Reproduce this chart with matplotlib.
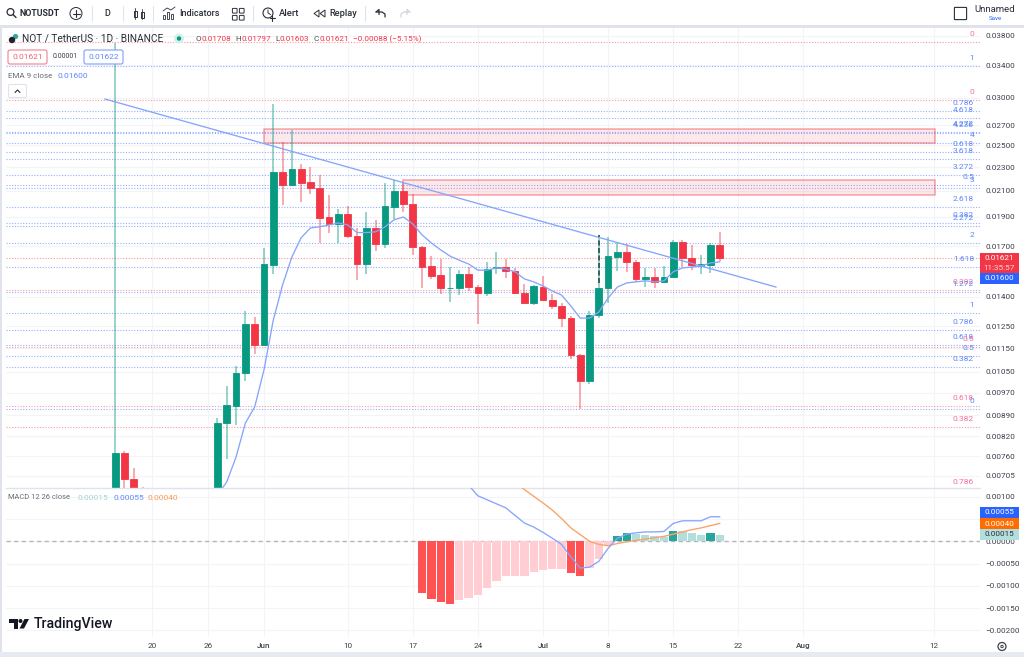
import matplotlib
matplotlib.use('Agg')
import matplotlib.pyplot as plt
from matplotlib.patches import Rectangle, FancyBboxPatch, Circle, Polygon
from matplotlib.ticker import NullLocator

plt.rcParams['font.family'] = ['Roboto', 'DejaVu Sans']

W, H = 1024, 657

# --- Candles (day number, 0 = 1 Jun) ---
days = [-16, -15, -14, -13, -5, -4, -3, -2, -1, 0, 1, 2, 3, 4, 5, 6, 7, 8, 9, 10, 11, 12, 13, 14, 15, 16,
        17, 18, 19, 20, 21, 22, 23, 24, 25, 26, 27, 28, 29, 30, 31, 32, 33, 34, 35, 36, 37, 38, 39, 40,
        41, 42, 43, 44, 45, 46, 47, 48, 49]
opens = [.00600, .00770, .00697, .00640, .00600, .00864, .00922, .01047, .01262, .01165, .01583, .02260,
         .02150, .02280, .02170, .02120, .01900, .01852, .01920, .01769, .01587, .01822, .01715, .01975,
         .02100, .02000, .01696, .01575, .01520, .01447, .01449, .01527, .01452, .01419, .01560, .01570,
         .01547, .01420, .01367, .01455, .01381, .01351, .01290, .01120, .01015, .01307, .01445, .01630,
         .01663, .01600, .01500, .01510, .01480, .01510, .01727, .01624, .01575, .01580, .01708]
highs = [.03699, .00776, .00727, .00675, .00880, .00995, .01075, .01327, .01295, .01685, .02930, .02530,
         .02650, .02330, .02300, .02235, .02065, .01960, .01980, .01822, .01935, .01880, .02165, .02190,
         .02170, .02075, .01700, .01636, .01615, .01569, .01550, .01569, .01465, .01600, .01660, .01617,
         .01560, .01469, .01465, .01516, .01415, .01365, .01300, .01123, .01323, .01770, .01763, .01723,
         .01713, .01614, .01560, .01560, .01575, .01740, .01740, .01704, .01642, .01720, .01797]
lows = [.00590, .00670, .00600, .00600, .00590, .00752, .00856, .01012, .01125, .01160, .01527, .01990,
        .02145, .02015, .02075, .01720, .01785, .01720, .01750, .01491, .01530, .01670, .01690, .01885,
        .01940, .01642, .01445, .01498, .01415, .01373, .01408, .01430, .01260, .01403, .01530, .01503,
        .01415, .01362, .01356, .01375, .01334, .01249, .01102, .00912, .01003, .01290, .01367, .01545,
        .01540, .01484, .01455, .01450, .01473, .01505, .01568, .01552, .01527, .01535, .01603]
closes = [.00770, .00697, .00640, .00600, .00863, .00925, .01047, .01262, .01165, .01587, .02260, .02150,
          .02280, .02165, .02120, .01895, .01852, .01920, .01767, .01587, .01822, .01715, .01980, .02100,
          .02000, .01693, .01569, .01516, .01445, .01450, .01527, .01452, .01419, .01555, .01570, .01545,
          .01422, .01367, .01457, .01381, .01350, .01290, .01119, .01015, .01307, .01445, .01636, .01663,
          .01600, .01497, .01508, .01480, .01512, .01727, .01622, .01579, .01585, .01709, .01621]

# --- EMA 9 ---
ema_days = list(range(-5, 50))
ema = [.00655, .00689, .00758, .00863, .00918, .01058, .01280, .01465, .01630, .01755, .01822, .01830, .01843,
       .01857, .01843, .01790, .01790, .01795, .01829, .01880, .01900, .01850, .01774, .01720, .01675, .01636,
       .01610, .01587, .01550, .01550, .01563, .01557, .01540, .01499, .01482, .01459, .01431, .01409, .01351,
       .01290, .01290, .01320, .01393, .01453, .01476, .01482, .01488, .01482, .01488, .01540, .01563, .01569,
       .01575, .01593, .01600]

# --- Drawings ---
trend_days = [-17.1, 55.05]
trend_prices = [.02985, .01453]
zone_days = [[0, 72.2], [15, 72.2]]
zone_prices = [[.02520, .02660], [.02067, .02190]]
dash_day = 36
dash_prices = [.01476, .01770]

fib_prices = [.03714, .03388, .02971, .02851, .02772, .02630, .02620, .02519, .02441, .02370, .02232, .02148,
              .02124, .01972, .01855, .01836, .01718, .01569, .01437, .01428, .01317, .01232, .01165, .01153,
              .01117, .01071, .00922, .00912, .00849, .00668]
fib_labels = ['0', '1', '0', '0.786', '4.618', '4.272', '4.236', '4', '0.618', '3.618', '3.272', '0.5', '3',
              '2.618', '0.382', '2.272', '2', '1.618', '0.382', '1.272', '1', '0.786', '0.618', '0.5', '0.5',
              '0.382', '0.618', '0', '0.382', '0.786']
fib_kinds = ['r', 'b', 'r', 'b', 'b', 'b', 'b', 'b', 'b', 'b', 'b', 'b', 'b', 'b', 'b', 'b', 'b', 'b', 'r', 'b',
             'b', 'b', 'b', 'r', 'b', 'b', 'r', 'b', 'r', 'r']
last_close = .01621

price_ticks = [.038, .034, .030, .027, .025, .023, .021, .019, .017, .014, .0125, .0115, .0105, .0097, .0089,
               .0082, .0076, .00705]

# --- MACD ---
hist_days = list(range(17, 50))
hist = [-.00117, -.00129, -.00137, -.00141, -.00132, -.00127, -.00121, -.00105, -.00090, -.00078, -.00077,
        -.00077, -.00069, -.00065, -.00062, -.00063, -.00070, -.00078, -.00061, -.00039, -.00010, .00012,
        .00019, .00016, .00015, .00012, .00010, .00022, .00022, .00018, .00015, .00019, .00015]
hist_strong = [1, 1, 1, 1, 0, 0, 0, 0, 0, 0, 0, 0, 0, 0, 0, 0, 1, 1, 0, 0, 0, 1, 1, 0, 0, 0, 0, 1, 0, 0, 0, 1, 0]
macd_days = list(range(22, 50))
macd = [.00126, .00102, .00093, .00084, .00075, .00058, .00041, .00032, .00020, .00007, -.00007, -.00035,
        -.00060, -.00058, -.00045, -.00016, .00007, .00016, .00019, .00021, .00021, .00022, .00040, .00046,
        .00046, .00046, .00055, .00055]
signal_days = list(range(27, 50))
signal = [.00132, .00116, .00101, .00086, .00070, .00051, .00030, .00015, .00000, -.00007, -.00010, -.00005,
          -.00001, .00002, .00005, .00008, .00011, .00016, .00021, .00026, .00030, .00035, .00040]
macd_ticks = [.001, .0005, 0, -.0005, -.001, -.0015, -.002]
macd_ticklabels = ['0.00100', '0.00050', '0.00000', '\u22120.00050', '\u22120.00100', '\u22120.00150', '\u22120.00200']

# --- Time axis ---
time_ticks = [-12, -6, 0, 9, 16, 23, 30, 37, 44, 51, 58, 72]
time_labels = ['20', '26', 'Jun', '10', '17', '24', 'Jul', '8', '15', '22', 'Aug', '12']

GREEN = '#089981'
RED = '#f23645'
BLUE = '#2962ff'
GRID = '#f3f4f7'
AXTXT = '#3c404b'
LINE_BLUE = '#86a5fb'


def make_axes(left, top, right, bottom):
    return fig.add_axes([left / W, 1 - bottom / H, (right - left) / W, (bottom - top) / H])


fig = plt.figure(figsize=(W / 100, H / 100), dpi=100, facecolor='white')

# --- Price pane ---
ax = make_axes(6, 27, 980, 488)
ax.set_yscale('log')
ax.set_xlim(-27.74, 76.99)
ax.set_ylim(.00673, .03933)
ax.yaxis.tick_right()
ax.set_yticks(price_ticks)
ax.set_yticklabels([f'{p:.5f}' for p in price_ticks])
ax.yaxis.set_minor_locator(NullLocator())
ax.set_xticks(time_ticks)
ax.tick_params(axis='both', length=0, labelsize=5.9, labelcolor=AXTXT, pad=3.6, labelbottom=False)
ax.grid(True, color=GRID, lw=0.8)
ax.set_axisbelow(True)
for s in ax.spines.values():
    s.set_visible(False)

for p, lab, kind in zip(fib_prices, fib_labels, fib_kinds):
    col = BLUE if kind == 'b' else RED
    ax.axhline(p, color=col, alpha=0.5, lw=0.8, ls=(0, (1, 1.5)), zorder=1)
    ax.annotate(lab, xy=(1 - 6 / 974, p), xycoords=('axes fraction', 'data'),
                xytext=(0, 5.8), textcoords='offset points', ha='right', va='center', fontsize=6.0,
                color='#5f86fb' if kind == 'b' else '#f2709c', annotation_clip=False, zorder=6)
ax.axhline(last_close, color=RED, alpha=0.5, lw=0.8, ls=(0, (1, 1.5)), zorder=1)

for (d, pr) in zip(zone_days, zone_prices):
    ax.add_patch(Rectangle((d[0], pr[0]), d[1] - d[0], pr[1] - pr[0], facecolor=RED, alpha=0.11, zorder=2))
    ax.add_patch(Rectangle((d[0], pr[0]), d[1] - d[0], pr[1] - pr[0], facecolor='none', edgecolor=RED,
                           alpha=0.45, lw=1.1, zorder=2))

for d, o, h, l, c in zip(days, opens, highs, lows, closes):
    col = GREEN if c >= o else RED
    ax.vlines(d, l, h, color=col, alpha=0.45, lw=1.3, zorder=3)
    ax.bar(d, abs(c - o), bottom=min(o, c), width=0.72, color=col, edgecolor=col, lw=0.6, zorder=4)

ax.vlines(dash_day, dash_prices[0], dash_prices[1], color='#2b4a46', lw=1.2, ls=(0, (3, 1.5)), zorder=5)
ax.plot(ema_days, ema, color=LINE_BLUE, lw=0.95, zorder=5)
ax.plot(trend_days, trend_prices, color=LINE_BLUE, lw=0.95, zorder=5)

# --- MACD pane ---
ax2 = make_axes(6, 488, 980, 637)
ax2.set_xlim(-27.74, 76.99)
ax2.set_ylim(-.002146, .001195)
ax2.yaxis.tick_right()
ax2.set_yticks(macd_ticks)
ax2.set_yticklabels(macd_ticklabels)
ax2.set_xticks(time_ticks)
ax2.set_xticklabels(time_labels)
ax2.tick_params(axis='both', length=0, labelsize=5.9, labelcolor=AXTXT)
ax2.tick_params(axis='y', pad=3.6)
ax2.tick_params(axis='x', pad=4.2)
for lab, txt in zip(ax2.get_xticklabels(), time_labels):
    if txt in ('Jun', 'Jul', 'Aug'):
        lab.set_fontweight('medium')
ax2.grid(True, color=GRID, lw=0.8)
ax2.set_axisbelow(True)
for s in ax2.spines.values():
    s.set_visible(False)
ax2.spines['top'].set_visible(True)
ax2.spines['top'].set_color('#e0e3eb')
ax2.spines['top'].set_linewidth(1.0)
ax2.axhline(0, color='#b2b5be', lw=1, ls=(0, (3, 2.5)), zorder=1)

hist_colors = []
for v, strong in zip(hist, hist_strong):
    if v >= 0:
        hist_colors.append('#26a69a' if strong else '#b2dfdb')
    else:
        hist_colors.append('#ff5252' if strong else '#ffcdd2')
ax2.bar(hist_days, hist, width=0.9, color=hist_colors, zorder=2)
ax2.plot(signal_days, signal, color='#f9a56b', lw=1.0, zorder=3)
ax2.plot(macd_days, macd, color=LINE_BLUE, lw=0.95, zorder=4)

# --- Overlay in pixel coordinates for the app chrome ---
ui = fig.add_axes([0, 0, 1, 1], facecolor='none')
ui.set_xlim(0, W)
ui.set_ylim(H, 0)
ui.axis('off')

DARK = '#2a2e39'
ui.add_patch(Rectangle((0, 0), W, 25, facecolor='white', zorder=1))
ui.add_patch(Rectangle((0, 25), W, 2.5, facecolor='#e0e3eb', zorder=2))
ui.add_patch(Rectangle((0, 25), 2, H - 25, facecolor='#e0e3eb', zorder=2))
ui.add_patch(Rectangle((0, 652), W, 5, facecolor='#e8eaf1', zorder=2))


def label(x, y, txt, color=DARK, size=6.4, weight='normal', ha='left'):
    ui.text(x, y, txt, color=color, fontsize=size, fontweight=weight, ha=ha, va='center', zorder=8)


def stroke(xs, ys, color=DARK, lw=0.8):
    ui.plot(xs, ys, color=color, lw=lw, solid_capstyle='round', zorder=8)


# toolbar
ui.add_patch(Circle((10.5, 12), 3.4, fill=False, edgecolor=DARK, lw=0.9, zorder=8))
stroke([13, 16], [14.5, 17.5], lw=1)
label(19, 13, 'NOTUSDT', size=6.4, weight='bold')
ui.add_patch(Circle((76, 13.5), 6, fill=False, edgecolor=DARK, lw=0.7, zorder=8))
stroke([72.5, 79.5], [13.5, 13.5])
stroke([76, 76], [10, 17])
label(107, 13.5, 'D', size=6.5, weight='medium', ha='center')
for x, y0, y1 in [(135, 8, 19), (142, 9, 19)]:
    stroke([x, x], [y0, y1], lw=0.6)
    ui.add_patch(Rectangle((x - 1.5, y0 + 2.5), 3, 6, fill=False, edgecolor=DARK, lw=0.7, zorder=8))
for x, h in [(164, 4), (168, 7), (172, 5)]:
    ui.add_patch(Rectangle((x - 1.3, 19 - h), 2.6, h, fill=False, edgecolor=DARK, lw=0.6, zorder=8))
stroke([163, 167, 171, 175], [11, 8, 10, 7], lw=0.6)
label(179, 13.5, 'Indicators', size=6.5, weight='medium')
for x in (233, 240):
    for y in (9, 16):
        ui.add_patch(FancyBboxPatch((x, y), 3.5, 3.5, boxstyle='round,pad=0.6', fill=False, edgecolor=DARK, lw=0.7, zorder=8))
ui.add_patch(Circle((268, 13), 5, fill=False, edgecolor=DARK, lw=0.8, zorder=8))
stroke([268, 268, 270.5], [10, 13, 14.5], lw=0.7)
stroke([272, 272], [15, 20.5], lw=0.8)
stroke([269.5, 275], [18, 18], lw=0.8)
label(279, 13.5, 'Alert', size=6.8, weight='medium')
ui.add_patch(Polygon([[314, 13.5], [319, 10], [319, 17]], fill=False, edgecolor=DARK, lw=0.7, zorder=8))
ui.add_patch(Polygon([[320, 13.5], [325, 10], [325, 17]], fill=False, edgecolor=DARK, lw=0.7, zorder=8))
label(329, 13.5, 'Replay', size=6.7, weight='medium')
stroke([376, 379, 379], [12, 9.5, 14.5], lw=0.9)
stroke([376, 382, 385, 385], [12, 12, 14, 17], lw=0.9)
stroke([410, 407, 407], [12, 9.5, 14.5], color='#d1d4dc', lw=0.9)
stroke([410, 404, 401, 401], [12, 12, 14, 17], color='#d1d4dc', lw=0.9)
for x in (92, 123, 153, 253, 365):
    stroke([x, x], [6, 21], color='#e0e3eb', lw=0.8)
ui.add_patch(FancyBboxPatch((955, 8), 11, 11, boxstyle='round,pad=0.6', fill=False, edgecolor=DARK, lw=0.8, zorder=8))
label(995, 10, 'Unnamed', size=6.8, ha='center')
label(995, 18.5, 'Save', color=BLUE, size=4.4, ha='center')

# symbol legend
ui.add_patch(Circle((15.5, 36.5), 2.6, facecolor='#2fa7a0', zorder=8))
ui.add_patch(Circle((12, 40), 3.2, facecolor='#22242c', zorder=9))
label(22, 39, 'NOT / TetherUS \u00b7 1D \u00b7 BINANCE', size=7.3)
ui.add_patch(Circle((179, 38.5), 5, facecolor='#d6efe9', zorder=8))
ui.add_patch(Circle((179, 38.5), 2.2, facecolor=GREEN, zorder=9))
for x, name, xv, val in [(195, 'O', 201.5, '0.01708'), (235, 'H', 241.5, '0.01797'), (275, 'L', 280, '0.01603'),
                         (314, 'C', 319.5, '0.01621')]:
    label(x, 39, name, size=5.9, color='#4a4e59')
    label(xv, 39, val, size=5.9, color=RED)
label(353, 39, '\u22120.00088 (\u22125.15%)', size=5.9, color=RED)

ui.add_patch(FancyBboxPatch((8, 50), 39, 14, boxstyle='round,pad=0,rounding_size=2', facecolor='white', edgecolor='#f5808c', lw=0.8, zorder=8))
label(27.5, 57, '0.01621', color='#f2636f', size=6.0, ha='center')
label(65, 57, '0.00001', color='#3c404b', size=5.0, ha='center')
ui.add_patch(FancyBboxPatch((84, 50), 39, 14, boxstyle='round,pad=0,rounding_size=2', facecolor='white', edgecolor='#7f9ffb', lw=0.8, zorder=8))
label(103.5, 57, '0.01622', color='#5f86fb', size=6.0, ha='center')
label(8, 75.5, 'EMA 9 close', color='#6a6d78', size=5.8)
label(58, 75.5, '0.01600', color='#5f86fb', size=6.0)
ui.add_patch(FancyBboxPatch((8.5, 84.5), 18, 13, boxstyle='round,pad=0,rounding_size=1.5', facecolor='white', edgecolor='#e0e3eb', lw=0.8, zorder=8))
stroke([15, 17.5, 20], [92.5, 90, 92.5], lw=0.8)

# macd legend
label(8, 497.5, 'MACD 12 26 close', color='#6a6d78', size=5.4)
label(78, 497.5, '0.00015', color='#9fd6cf', size=6.0)
label(113, 497.5, '0.00055', color='#5f86fb', size=6.0)
label(147, 497.5, '0.00040', color='#f79a55', size=6.0)

# price tags
ui.add_patch(Rectangle((980, 253), 39, 20, facecolor=RED, zorder=7))
label(999.5, 258.5, '0.01621', color='white', size=5.9, ha='center')
label(999.5, 267.5, '11:35:57', color='#ffd5d9', size=5.9, ha='center')
ui.add_patch(Rectangle((980, 273), 39, 11, facecolor=BLUE, zorder=7))
label(999.5, 278.5, '0.01600', color='white', size=5.9, ha='center')
ui.add_patch(Rectangle((980, 507), 39, 11, facecolor=BLUE, zorder=7))
label(999.5, 512.5, '0.00055', color='white', size=5.9, ha='center')
ui.add_patch(Rectangle((980, 518), 39, 11, facecolor='#ff6d00', zorder=7))
label(999.5, 523.5, '0.00040', color='white', size=5.9, ha='center')
ui.add_patch(Rectangle((980, 529), 39, 11, facecolor='#b2dfdb', zorder=7))
label(999.5, 534.5, '0.00015', color=DARK, size=5.9, ha='center')

# gear button
ui.add_patch(Circle((1002, 646.5), 4, fill=False, edgecolor='#3c404b', lw=0.9, zorder=8))
ui.add_patch(Circle((1002, 646.5), 1.2, fill=False, edgecolor='#3c404b', lw=0.7, zorder=8))

# TradingView logo
ui.add_patch(Polygon([[9, 619], [18, 619], [18, 628.5], [14, 628.5], [14, 622.5], [9, 622.5]], facecolor='#131722', zorder=8))
ui.add_patch(Circle((20.5, 621), 2, facecolor='#131722', zorder=8))
ui.add_patch(Polygon([[24.5, 619], [29, 619], [24, 628.5], [19.5, 628.5]], facecolor='#131722', zorder=8))
label(34, 624, 'TradingView', color='#131722', size=10.2, weight='medium')

fig.savefig('out.png', dpi=100)
